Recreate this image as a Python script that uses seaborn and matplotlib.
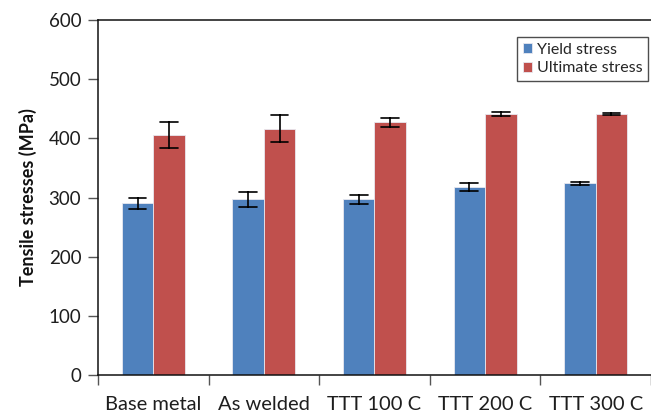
import numpy as np
import pandas as pd
import seaborn as sns
from matplotlib import pyplot as plt

conditions = ['Base metal', 'As welded', 'TTT 100 C', 'TTT 200 C', 'TTT 300 C']
yield_stress = [290, 297, 297, 318, 324]
yield_err = [10, 13, 7.5, 7, 2.5]
ultimate_stress = [405, 416, 427, 441, 441]
ultimate_err = [22, 23, 8, 3, 2]
series = ['Yield stress', 'Ultimate stress']

# three rows per bar (low, mean, high) so seaborn draws the error bars itself
rows = []
for name, vals, errs in [(series[0], yield_stress, yield_err),
                         (series[1], ultimate_stress, ultimate_err)]:
    for cond, v, e in zip(conditions, vals, errs):
        for s in (v - e, v, v + e):
            rows.append({'condition': cond, 'series': name, 'stress': s})
df = pd.DataFrame(rows)

sns.set_theme(style='white')
plt.rcParams['font.family'] = ['Lato', 'DejaVu Sans']

fig = plt.figure(figsize=(6.51, 4.17), dpi=100)
ax = fig.add_axes([0.1505, 0.1007, 0.8495, 0.8513])

sns.barplot(data=df, x='condition', y='stress', hue='series', order=conditions,
            hue_order=series, palette=['#4F81BD', '#C0504D'], width=0.57,
            estimator='mean', errorbar=lambda v: (v.min(), v.max()),
            capsize=0.32, err_kws={'color': 'black', 'linewidth': 1.2},
            saturation=1, edgecolor='#e8e8f0', linewidth=0.6, ax=ax)

ax.set_ylim(0, 600)
ax.set_yticks(np.arange(0, 601, 100))
ax.set_xlim(-0.5, 4.42)
ax.set_xticks(np.arange(-0.5, 5, 1))
ax.set_xticklabels([])
ax.set_xticks(np.arange(5), labels=conditions, minor=True)
ax.tick_params(axis='x', which='major', length=7, width=1, color='#555555', direction='out', bottom=True)
ax.tick_params(axis='x', which='minor', length=0, pad=15, labelsize=14.5, labelcolor='#1e1e1e')
ax.tick_params(axis='y', length=7, width=1, color='#555555', direction='out', left=True,
               labelsize=13.5, labelcolor='#1e1e1e', pad=5)

ax.spines['right'].set_visible(False)
for side in ['left', 'bottom', 'top']:
    ax.spines[side].set_color('#111111')
    ax.spines[side].set_linewidth(1.1)

ax.set_xlabel('')
ax.set_ylabel('Tensile stresses (MPa)', fontsize=13, fontweight='bold', labelpad=8, color='#111111')

leg = ax.legend(loc='upper right', bbox_to_anchor=(0.995, 0.952), borderaxespad=0,
                fontsize=11.5, frameon=True, fancybox=False, handlelength=0.6,
                handleheight=0.6, handletextpad=0.3, labelspacing=0.3, borderpad=0.35,
                title=None)
leg.get_frame().set_edgecolor('#222222')
leg.get_frame().set_linewidth(1)

plt.savefig('out.png', dpi=100)
